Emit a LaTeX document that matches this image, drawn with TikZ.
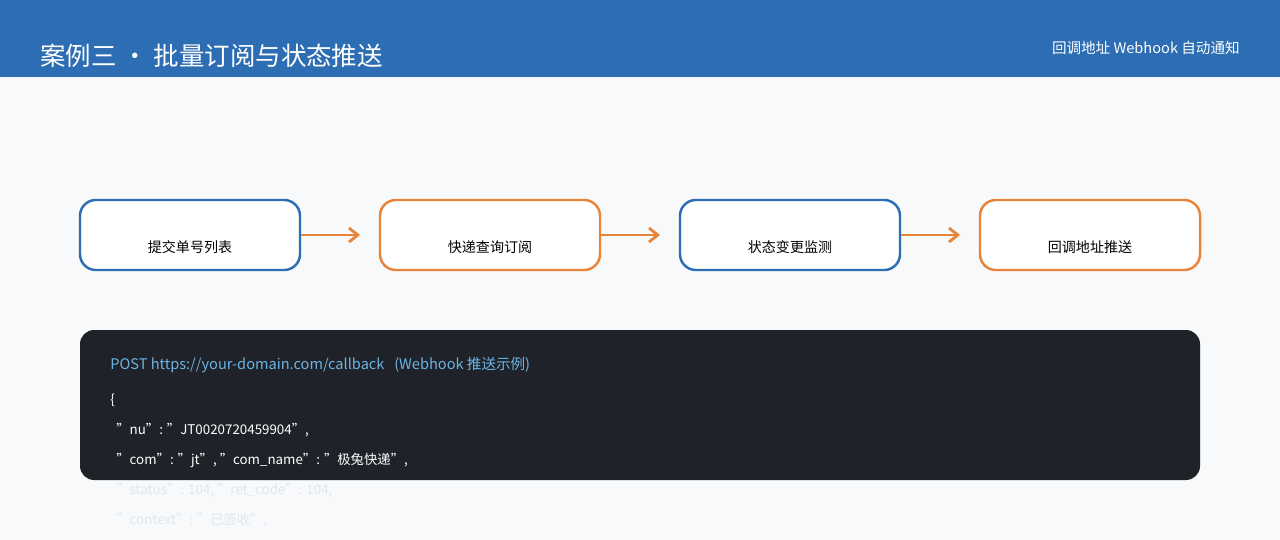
\documentclass[tikz,border=0pt]{standalone}
\usepackage{fontspec}
\usetikzlibrary{arrows.meta}
\setmainfont{Noto Sans CJK SC}
\definecolor{hdr}{HTML}{2D6DB3}
\definecolor{bg}{HTML}{F7F9FB}
\definecolor{bl}{HTML}{2D6DB3}
\definecolor{org}{HTML}{E8843A}
\definecolor{dark}{HTML}{1F2228}
\definecolor{lnk}{HTML}{6CB4E4}
\definecolor{faint}{HTML}{E2E6EA}
\begin{document}
\begin{tikzpicture}[x=0.02cm,y=-0.02cm,
  step/.style={draw=#1,line width=1.4pt,fill=white,rounded corners=9pt,minimum width=220*0.02cm,minimum height=70*0.02cm,inner sep=0,font=\fontsize{8}{10}\selectfont,text depth=0pt},
  arr/.style={draw=org,line width=1.6pt,-{Straight Barb[length=5pt,width=8pt]}},
  code/.style={anchor=west,inner sep=0,font=\fontsize{7.6}{9}\selectfont,text=#1}]
\useasboundingbox (0,0) rectangle (1280,540);
\fill[bg] (0,0) rectangle (1280,540);
\fill[hdr] (0,0) rectangle (1280,77);
\node[anchor=west,text=white,inner sep=0,font=\fontsize{14.5}{16}\selectfont] (t) at (40,56) {案例三 · 批量订阅与状态推送};
\node[anchor=east,text=white,inner sep=0,font=\fontsize{8.3}{10}\selectfont] (st) at (1240,48) {回调地址 Webhook 自动通知};
\node[step=bl] (a) at (190,235) {\raisebox{-10pt}{提交单号列表}};
\node[step=org] (b) at (490,235) {\raisebox{-10pt}{快递查询订阅}};
\node[step=bl] (c) at (790,235) {\raisebox{-10pt}{状态变更监测}};
\node[step=org] (d) at (1090,235) {\raisebox{-10pt}{回调地址推送}};
\coordinate (a2) at (360,235);\coordinate (b2) at (660,235);\coordinate (c2) at (960,235);
\draw[arr] (a.east) -- (a2);
\draw[arr] (b.east) -- (b2);
\draw[arr] (c.east) -- (c2);
\node[code=faint] (l5) at (110,490) {\ \ "status": 104, "ret\_code": 104,};
\node[code=faint] (l6) at (110,520) {\ \ "context": "已签收",};
\fill[dark,rounded corners=8pt] (80,330) rectangle (1200,480);
\node[code=lnk,font=\fontsize{8.3}{10}\selectfont] (l0) at (110,365) {POST https://your-domain.com/callback \ \ (Webhook 推送示例)};
\node[code=white] (l1) at (110,400) {\{};
\node[code=white] (l2) at (110,430) {\ \ "nu": "JT0020720459904",};
\node[code=white] (l3) at (110,460) {\ \ "com": "jt", "com\_name": "极兔快递",};
\end{tikzpicture}
\end{document}
